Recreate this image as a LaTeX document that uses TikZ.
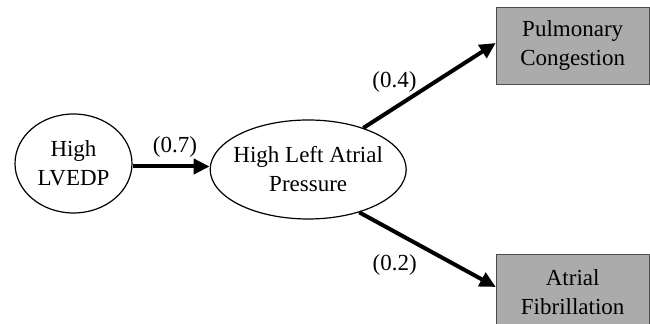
\documentclass[tikz,border=0pt]{standalone}
\usepackage{fontspec}
\setmainfont{Liberation Serif}
\usetikzlibrary{positioning,shapes.geometric}
\usepgflibrary{arrows.meta}

\begin{document}
\begin{tikzpicture}
    [x=0.5pt, y=-0.5pt, font=\fontsize{11.5}{14.5}\selectfont,
    arr/.style={line width=2pt, -{Triangle[length=8pt,width=7.5pt]}},
    state/.style={ellipse, draw, line width=0.6pt, inner xsep=-5pt, inner ysep=0pt, align=center, minimum height=49.5pt},
    outcome/.style={rectangle, draw=black!70, fill=black!33, align=center, minimum width=76.5pt, minimum height=38.5pt}]
    \useasboundingbox (0,0) rectangle (650,324);
        \node[state, minimum width=58.5pt] (V) at (73.5,163.5) {High\\LVEDP};
        \node[state, minimum width=98pt, right=38.5pt of V, yshift=-3pt] (A) {High Left Atrial\\Pressure};
        \node[outcome, right=44.5pt of A, yshift=62pt] (C) {Pulmonary\\Congestion};
        \node[outcome, right=44.5pt of A, yshift=-61.5pt] (F) {Atrial\\Fibrillation};

        \draw[arr, transform canvas={yshift=-1.5pt}] (V.east) -- (V.east -| A.west) node[pos=0.55, above=0pt] {(0.7)};
        \draw[arr] (A.37) -- ([yshift=1.25pt]C.west) node[pos=0.235, above=3.5pt] {(0.4)};
        \draw[arr] (A.-40) -- ([yshift=2.75pt]F.west) node[pos=0.26, below=7pt] {(0.2)};
\end{tikzpicture}
\end{document}
